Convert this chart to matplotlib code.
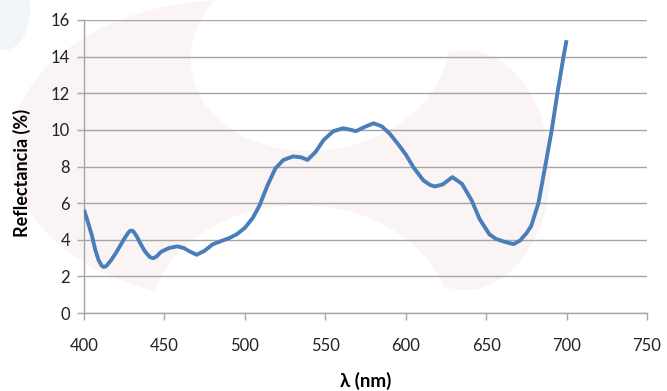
import numpy as np
import matplotlib.pyplot as plt
from matplotlib.patches import Ellipse

# Espectro de reflectancia
longitud_onda = [400, 403, 405, 407, 409, 411, 412, 413, 414, 417, 420, 423,
                 425, 427, 428.5, 430, 431, 433, 435, 438, 441, 443, 445,
                 448, 453, 458, 462, 466, 470, 475, 480, 485, 490, 495, 500,
                 505, 509, 514, 519, 524, 530, 535, 539, 544, 549, 555, 561,
                 565, 569, 575, 580, 585, 590, 595, 600, 605, 611, 615, 618,
                 623, 629, 635, 641, 646, 652, 656, 661, 667, 671, 675, 678,
                 682.5, 686.7, 690.8, 694.3, 698.1, 700]
reflectancia = [5.64, 4.8, 4.2, 3.45, 2.9, 2.58, 2.52, 2.52, 2.58, 2.9, 3.3, 3.75,
                4.05, 4.32, 4.48, 4.5, 4.42, 4.15, 3.8, 3.35, 3.05, 2.99, 3.08,
                3.35, 3.55, 3.64, 3.55, 3.35, 3.18, 3.4, 3.75, 3.92, 4.08, 4.3, 4.65,
                5.2, 5.85, 6.95, 7.9, 8.36, 8.55, 8.5, 8.36, 8.8, 9.45, 9.93, 10.09,
                10.02, 9.93, 10.18, 10.36, 10.2, 9.8, 9.25, 8.66, 7.93, 7.24, 7.0, 6.91,
                7.02, 7.42, 7.05, 6.15, 5.12, 4.3, 4.05, 3.9, 3.76, 3.95, 4.35, 4.75,
                6.0, 8.0, 10.0, 12.0, 14.0, 14.9]

x_ticks = [400, 450, 500, 550, 600, 650, 700, 750]
y_ticks = [0, 2, 4, 6, 8, 10, 12, 14, 16]

plt.rcParams['font.family'] = ['Lato', 'DejaVu Sans']

W, H = 667, 391
fig = plt.figure(figsize=(W / 100, H / 100), dpi=100)

# marca de agua tenue del fondo (en píxeles)
rosa = '#faf4f4'
fondo = fig.add_axes([0, 0, 1, 1], zorder=0)
fondo.set_xlim(0, W)
fondo.set_ylim(H, 0)
fondo.axis('off')
fondo.add_patch(Ellipse((230, 150), 440, 300, color=rosa, lw=0))
fondo.add_patch(Ellipse((465, 170), 170, 240, color=rosa, lw=0))
fondo.add_patch(Ellipse((320, 50), 260, 200, angle=-10, color='white', lw=0))
fondo.add_patch(Ellipse((300, 320), 300, 230, color='white', lw=0))
fondo.add_patch(Ellipse((5, 10), 50, 80, color='#f1f6fb', lw=0))

ax = fig.add_axes([84 / W, 1 - 313 / H, (647 - 84) / W, (313 - 20) / H], zorder=1)
ax.patch.set_alpha(0)

ax.plot(longitud_onda, reflectancia, color='#4a7ebb', lw=2.8,
        solid_joinstyle='round', solid_capstyle='butt', zorder=3)

ax.set_xlim(400, 750)
ax.set_ylim(0, 16)
ax.set_xticks(x_ticks)
ax.set_yticks(y_ticks)
ax.grid(axis='y', color='#a6a6a6', lw=1)
ax.set_axisbelow(True)

for s in ['top', 'right']:
    ax.spines[s].set_visible(False)
for s in ['left', 'bottom']:
    ax.spines[s].set_color('#a6a6a6')
    ax.spines[s].set_linewidth(1)

ax.tick_params(axis='both', colors='#a6a6a6', labelcolor='#222222',
               labelsize=12, length=5, width=1)
ax.tick_params(axis='x', pad=13)
ax.tick_params(axis='y', pad=5)

ax.set_xlabel('λ (nm)', fontsize=13.5, fontweight='bold')
ax.set_ylabel('Reflectancia (%)', fontsize=13, fontweight='bold')
# posiciones de los títulos de eje como en el original
ax.xaxis.set_label_coords(0.5, -(381 - 313) / 293, transform=ax.transAxes)
ax.xaxis.label.set_va('center')
ax.yaxis.set_label_coords((22 - 84) / 563, (313 - 173) / 293, transform=ax.transAxes)
ax.yaxis.label.set_va('center')

fig.savefig('out.png', dpi=100)
